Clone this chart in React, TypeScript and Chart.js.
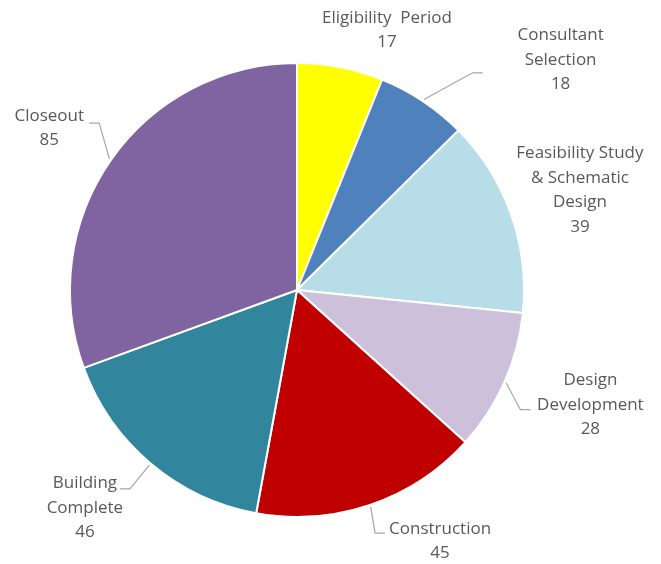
import React, { useEffect, useRef } from "react";
import { Chart, registerables } from "chart.js";

Chart.register(...registerables);

const categoryLines: string[][] = [
  ["Eligibility  Period"],
  ["Consultant", "Selection"],
  ["Feasibility Study", "& Schematic", "Design"],
  ["Design", "Development"],
  ["Construction"],
  ["Building", "Complete"],
  ["Closeout"],
];
const categories = categoryLines.map((l) => l.join(" "));
const values = [17, 18, 39, 28, 45, 46, 85];
const colors = ["#FFFF00", "#4F81BD", "#B7DEE8", "#CCC0DA", "#C00000", "#31859C", "#8064A2"];

// label placement: [angle shift from slice middle (deg), extra distance beyond rim (px)]
const labelPlace: [number, number][] = [
  [8.1, 48],
  [15.2, 123],
  [0, 73],
  [-2.6, 88],
  [-10.9, 62],
  [4.1, 77],
  [-1.8, 69],
];
// leader line end relative to label centre, null = no leader
const leaderEnd: ([number, number] | null)[] = [
  null,
  [-78, 13],
  null,
  [-60, 5],
  [-55, -8],
  [35, -19],
  [40, -5],
];

const FONT = '17px "Open Sans", "Noto Sans", sans-serif';
const LINE_H = 24.5;

const labelPlugin = {
  id: "outerLabels",
  afterDatasetsDraw(chart: any) {
    const ctx = chart.ctx;
    const meta = chart.getDatasetMeta(0);
    ctx.save();
    meta.data.forEach((arc: any, i: number) => {
      const p = arc.getProps(["x", "y", "startAngle", "endAngle", "outerRadius"], true);
      const mid = (p.startAngle + p.endAngle) / 2;
      const [shift, extra] = labelPlace[i];
      const a = mid + (shift * Math.PI) / 180;
      const d = p.outerRadius + extra;
      const lx = p.x + Math.cos(a) * d;
      const ly = p.y + Math.sin(a) * d;
      const lines = [...categoryLines[i], String(values[i])];
      ctx.font = FONT;
      ctx.fillStyle = "#595959";
      ctx.textAlign = "center";
      ctx.textBaseline = "middle";
      const top = ly - ((lines.length - 1) * LINE_H) / 2;
      lines.forEach((t, k) => ctx.fillText(t, lx, top + k * LINE_H));
      const le = leaderEnd[i];
      if (le) {
        const sx = p.x + Math.cos(mid) * (p.outerRadius + 2);
        const sy = p.y + Math.sin(mid) * (p.outerRadius + 2);
        const ex = lx + le[0];
        const ey = ly + le[1];
        const bx = ex + (ex > p.x ? -10 : 10);
        ctx.strokeStyle = "#A6A6A6";
        ctx.lineWidth = 1.2;
        ctx.beginPath();
        ctx.moveTo(sx, sy);
        ctx.lineTo(bx, ey);
        ctx.lineTo(ex, ey);
        ctx.stroke();
      }
    });
    ctx.restore();
  },
};

export default function App() {
  const ref = useRef<HTMLCanvasElement>(null);
  useEffect(() => {
    document.body.style.margin = "0";
    const chart = new Chart(ref.current!, {
      type: "pie",
      data: {
        labels: categories,
        datasets: [
          {
            data: values,
            backgroundColor: colors,
            borderColor: "#FFFFFF",
            borderWidth: 2,
          },
        ],
      },
      options: {
        responsive: false,
        animation: false,
        layout: { padding: { left: 69, right: 136, top: 62, bottom: 46 } },
        plugins: { legend: { display: false }, tooltip: { enabled: false } },
      },
      plugins: [labelPlugin],
    });
    return () => chart.destroy();
  }, []);
  return (
    <div style={{ width: 661, height: 564, background: "#fff" }}>
      <canvas ref={ref} width={661} height={564} />
    </div>
  );
}
